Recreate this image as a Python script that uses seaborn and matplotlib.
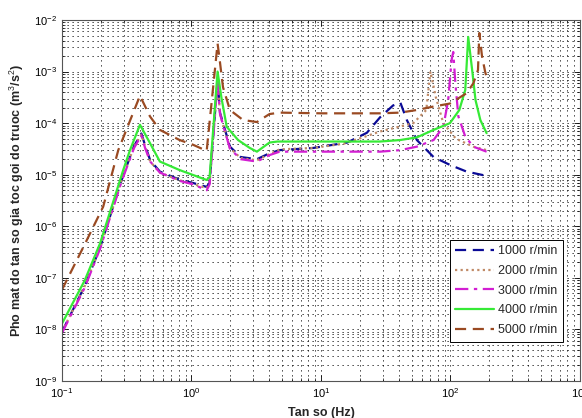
import matplotlib
matplotlib.use("Agg")
import matplotlib.pyplot as plt
import seaborn as sns
import numpy as np
import pandas as pd
from matplotlib.ticker import LogLocator, NullFormatter

# ---- data ----
labels = ["1000 r/min", "2000 r/min", "3000 r/min", "4000 r/min", "5000 r/min"]

f1000 = [0.1, 0.15, 0.197, 0.289, 0.36, 0.41, 0.44, 0.48, 0.57, 0.81, 1.03, 1.31, 1.38,
         1.59, 1.66, 1.98, 2.4, 3.2, 4.0, 4.8, 8.7, 15.9, 22.6, 28.6, 36, 41, 46, 55,
         74, 99, 133, 190]
v1000 = [9e-9, 7e-8, 3.9e-7, 8e-6, 3.6e-5, 6.3e-5, 3.6e-5, 1.9e-5, 1.15e-5, 8e-6, 6.9e-6,
         5.8e-6, 7e-6, 7e-4, 1.6e-4, 3.5e-5, 2.2e-5, 2e-5, 2.6e-5, 3e-5, 3.3e-5, 4.2e-5,
         6.5e-5, 1.3e-4, 2.2e-4, 2.5e-4, 1.15e-4, 4.7e-5, 2.2e-5, 1.55e-5, 1.15e-5, 9.5e-6]

f2000 = [0.1, 0.15, 0.197, 0.289, 0.36, 0.41, 0.44, 0.48, 0.57, 0.81, 1.03, 1.31, 1.38,
         1.59, 1.66, 1.98, 2.4, 3.2, 4.0, 4.8, 8.7, 15, 22, 28.6, 40, 51.6, 65, 70, 77,
         88, 110, 150, 190]
v2000 = [9e-9, 7e-8, 3.9e-7, 8e-6, 3.5e-5, 6e-5, 3.4e-5, 1.8e-5, 1.1e-5, 7.8e-6, 6.6e-6,
         5.5e-6, 6.8e-6, 7e-4, 1.5e-4, 3.3e-5, 2.1e-5, 1.9e-5, 2.5e-5, 3.1e-5, 3.3e-5, 4e-5,
         5.5e-5, 6.9e-5, 8.5e-5, 1e-4, 1.8e-4, 1e-3, 3.2e-4, 1e-4, 5e-5, 3.5e-5, 3e-5]

f3000 = [0.1, 0.15, 0.197, 0.289, 0.36, 0.41, 0.44, 0.48, 0.57, 0.81, 1.03, 1.31, 1.38,
         1.59, 1.66, 1.98, 2.4, 3.2, 4.0, 4.8, 10, 28.6, 41, 55, 74, 88, 96, 102, 105,
         109, 115, 130, 150, 190]
v3000 = [8.5e-9, 6.5e-8, 3.7e-7, 7.5e-6, 3.3e-5, 5.8e-5, 3.2e-5, 1.8e-5, 1.1e-5, 7.6e-6,
         6.5e-6, 5e-6, 6.5e-6, 6.5e-4, 1.5e-4, 3.2e-5, 2e-5, 1.8e-5, 2.4e-5, 2.8e-5, 2.8e-5,
         2.8e-5, 3e-5, 3.5e-5, 4.7e-5, 8.5e-5, 2.8e-4, 1.7e-3, 2.4e-3, 6e-4, 1.35e-4,
         5.5e-5, 3.5e-5, 2.8e-5]

f4000 = [0.1, 0.15, 0.197, 0.297, 0.335, 0.40, 0.478, 0.57, 0.81, 1.31, 1.38, 1.59, 1.70,
         1.87, 2.29, 2.82, 3.2, 4.0, 4.6, 10, 28.6, 40.8, 55, 74, 99, 117, 130, 137, 147,
         156, 170, 190]
v4000 = [1.3e-8, 9e-8, 4.7e-7, 1.23e-5, 3e-5, 9.3e-5, 4.1e-5, 1.8e-5, 1.23e-5, 7.9e-6,
         9e-6, 1e-3, 3.2e-4, 8.5e-5, 4.7e-5, 3.3e-5, 2.8e-5, 4.2e-5, 4.4e-5, 4.4e-5, 4.4e-5,
         4.7e-5, 5.3e-5, 7.4e-5, 1e-4, 1.8e-4, 4.4e-4, 4.7e-3, 1.07e-3, 2.8e-4, 1.15e-4,
         6.4e-5]

f5000 = [0.1, 0.15, 0.208, 0.272, 0.40, 0.478, 0.57, 0.81, 1.03, 1.31, 1.59, 1.66, 1.75,
         1.98, 2.5, 3.2, 4.0, 4.8, 10, 28.6, 41, 55, 74, 99, 133, 150, 163, 167, 175, 185,
         192]
v5000 = [5.9e-8, 4.5e-7, 2.4e-6, 3e-5, 3.4e-4, 1.35e-4, 7.4e-5, 4.7e-5, 3.8e-5, 2.9e-5,
         3.5e-3, 1.5e-3, 5e-4, 1.8e-4, 1.15e-4, 1.05e-4, 1.5e-4, 1.6e-4, 1.55e-4, 1.55e-4,
         1.6e-4, 1.8e-4, 2.1e-4, 2.4e-4, 3.8e-4, 5.9e-4, 1.07e-3, 5.6e-3, 2e-3, 1e-3, 7e-4]

freqs = [f1000, f2000, f3000, f4000, f5000]
vals = [v1000, v2000, v3000, v4000, v5000]

colors = ["#0a0a96", "#c08a66", "#d21ed2", "#36ea36", "#9a4a22"]
styles = [(0, (5, 3)), (0, (1, 1.5)), (0, (6, 2.5, 1.5, 2.5)), "-", (0, (5, 3))]

xlabel = "Tan so (Hz)"
ylabel = "Pho mat do tan so gia toc goi do truoc (m$^{3}$/s$^{2}$)"

# ---- styling ----
sns.set_style("ticks")
plt.rcParams["font.family"] = ["Liberation Sans", "DejaVu Sans"]
plt.rcParams["mathtext.fontset"] = "custom"
plt.rcParams["mathtext.rm"] = "Liberation Sans"
plt.rcParams["mathtext.it"] = "Liberation Sans:italic"
plt.rcParams["mathtext.bf"] = "Liberation Sans:bold"

fig = plt.figure(figsize=(5.82, 4.18), dpi=100)
ax = fig.add_axes([62 / 582, 1 - 381 / 418, (580 - 62) / 582, (381 - 20) / 418])

for f, v, lab, c, ls in zip(freqs, vals, labels, colors, styles):
    df = pd.DataFrame({"f": f, "v": v})
    sns.lineplot(data=df, x="f", y="v", ax=ax, color=c, linestyle=ls, linewidth=1.6,
                 label=lab, sort=False, estimator=None)

ax.set_xscale("log")
ax.set_yscale("log")
ax.set_xlim(0.1, 1000)
ax.set_ylim(1e-9, 1e-2)
ax.xaxis.set_major_locator(LogLocator(base=10, numticks=10))
ax.yaxis.set_major_locator(LogLocator(base=10, numticks=12))
ax.xaxis.set_minor_locator(LogLocator(base=10, subs=np.arange(2, 10), numticks=50))
ax.yaxis.set_minor_locator(LogLocator(base=10, subs=np.arange(2, 10), numticks=50))
ax.xaxis.set_minor_formatter(NullFormatter())
ax.yaxis.set_minor_formatter(NullFormatter())

ax.grid(True, which="major", color="k", linestyle=(0, (1.5, 4.5)), linewidth=0.6)
ax.grid(True, which="minor", color="k", linestyle=(0, (1.5, 4.5)), linewidth=0.6)
ax.set_axisbelow(True)
ax.tick_params(which="both", direction="in", top=True, right=True, labelsize=8, colors="k")
ax.tick_params(which="major", length=4, width=0.6)
ax.tick_params(which="minor", length=2, width=0.5)
for s in ax.spines.values():
    s.set_color("#555555")
    s.set_linewidth(0.8)

ax.set_xlabel(xlabel, fontsize=9, fontweight="bold", labelpad=5)
ax.set_ylabel(ylabel, fontsize=9, fontweight="bold", labelpad=6)

leg = ax.legend(loc="lower right", bbox_to_anchor=(0.979, 0.0914), fontsize=9,
                frameon=True, fancybox=False, framealpha=1, edgecolor="k",
                handlelength=3.1, handletextpad=0.3, labelspacing=0.62,
                borderpad=0.45, markerfirst=True)
leg.get_frame().set_linewidth(0.7)

fig.savefig("out.png", dpi=100)
